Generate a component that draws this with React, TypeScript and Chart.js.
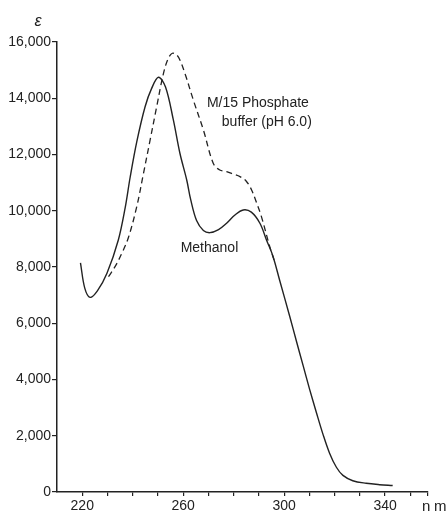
import React, { useEffect, useRef } from "react";
import { Chart, registerables } from "chart.js";

Chart.register(...registerables);

// Methanol (solid)
const methanolNm = [219.3, 221, 223.1, 226, 229.8, 234.3, 237, 239, 241.6, 244.9, 247.5, 250.2, 253, 256.1, 258.7, 261.4, 263, 265.3, 268, 270.6, 274, 277.2, 280.5, 283.8, 287, 290.4, 293, 295.5, 298.3, 302.2, 304.9, 307.5, 310.1, 312.8, 315.4, 318, 320.7, 323.3, 327.2, 332.5, 337.8, 343];
const methanolEps = [8150, 7250, 6920, 7150, 7777, 8961, 10100, 11200, 12450, 13700, 14350, 14746, 14400, 13228, 12044, 11094, 10384, 9650, 9300, 9221, 9330, 9555, 9850, 10028, 9950, 9555, 8961, 8400, 7500, 6250, 5350, 4500, 3650, 2820, 2050, 1380, 880, 590, 400, 309, 260, 230];

// M/15 Phosphate buffer (pH 6.0) (dashed)
const phosphateNm = [230.4, 233, 235.5, 238.3, 241.6, 244.2, 246.9, 249.5, 252.1, 254, 255.7, 257.3, 258.7, 261, 264, 268, 271.9, 274.5, 277.2, 280, 282.5, 285, 287.1, 289, 291, 294.3, 296];
const phosphateEps = [7656, 8012, 8450, 9050, 10145, 11300, 12517, 13700, 14850, 15400, 15599, 15550, 15362, 14800, 13940, 12873, 11688, 11450, 11392, 11300, 11214, 11050, 10740, 10300, 9790, 8723, 8250];

const xTicks = [220, 230, 240, 250, 260, 270, 280, 290, 300, 310, 320, 330, 340, 350, 357];
const xLabelled = [220, 260, 300, 340];
const yTicks = [0, 2000, 4000, 6000, 8000, 10000, 12000, 14000, 16000];

const FONT = "'Liberation Sans', Arial, sans-serif";

export default function App() {
  const ref = useRef<HTMLCanvasElement>(null);
  useEffect(() => {
    document.body.style.margin = "0";
    const canvas = ref.current!;
    const labels = {
      id: "labels",
      afterDraw(chart: any) {
        const ctx = chart.ctx;
        const xs = chart.scales.x;
        const ys = chart.scales.y;
        const ca = chart.chartArea;
        ctx.save();
        ctx.fillStyle = "#222";
        ctx.textBaseline = "middle";
        ctx.font = `14px ${FONT}`;
        ctx.textAlign = "left";
        ctx.fillText("M/15 Phosphate", xs.getPixelForValue(269.4), ys.getPixelForValue(13833));
        ctx.fillText("buffer (pH 6.0)", xs.getPixelForValue(275.3), ys.getPixelForValue(13157));
        ctx.fillText("Methanol", xs.getPixelForValue(259), ys.getPixelForValue(8677));
        ctx.font = `15px ${FONT}`;
        ctx.fillText("n", ca.right - 6, ca.bottom + 15);
        ctx.fillText("m", ca.right + 6, ca.bottom + 15);
        ctx.textAlign = "center";
        ctx.font = `italic 16px ${FONT}`;
        ctx.fillText("\u03b5", ca.left - 19, ca.top - 20);
        ctx.restore();
      },
    };
    const chart = new Chart(canvas, {
      type: "scatter",
      data: {
        datasets: [
          {
            label: "Methanol",
            data: methanolNm.map((x, i) => ({ x, y: methanolEps[i] })),
            showLine: true,
            borderColor: "#222",
            borderWidth: 1.4,
            pointRadius: 0,
            tension: 0.35,
          },
          {
            label: "M/15 Phosphate buffer (pH 6.0)",
            data: phosphateNm.map((x, i) => ({ x, y: phosphateEps[i] })),
            showLine: true,
            borderColor: "#222",
            borderWidth: 1.3,
            borderDash: [6, 4],
            pointRadius: 0,
            tension: 0.35,
          },
        ],
      },
      options: {
        animation: false,
        responsive: false,
        layout: { padding: { top: 42, right: 20, left: 0, bottom: 0 } },
        plugins: { legend: { display: false }, tooltip: { enabled: false } },
        scales: {
          x: {
            type: "linear",
            min: 210,
            max: 357,
            afterBuildTicks(scale: any) {
              scale.ticks = xTicks.map((v) => ({ value: v }));
            },
            afterFit(scale: any) {
              scale.height = 22;
            },
            grid: { drawOnChartArea: false, drawTicks: true, tickLength: 4, color: "#222", lineWidth: 1.2 },
            border: { display: true, color: "#222", width: 1.5 },
            ticks: {
              autoSkip: false,
              maxRotation: 0,
              padding: 2,
              color: "#222",
              font: { family: FONT, size: 14 },
              callback: (v: any) => (xLabelled.includes(v) ? String(v) : ""),
            },
          },
          y: {
            type: "linear",
            min: 0,
            max: 16000,
            afterBuildTicks(scale: any) {
              scale.ticks = yTicks.map((v) => ({ value: v }));
            },
            afterFit(scale: any) {
              scale.width = 57;
            },
            grid: { drawOnChartArea: false, drawTicks: true, tickLength: 5, color: "#222", lineWidth: 1.2 },
            border: { display: true, color: "#222", width: 1.5 },
            ticks: {
              padding: 1,
              color: "#222",
              font: { family: FONT, size: 14 },
              callback: (v: any) => Number(v).toLocaleString("en-US"),
            },
          },
        },
      },
      plugins: [labels],
    } as any);
    return () => chart.destroy();
  }, []);
  return <canvas ref={ref} width={448} height={514} style={{ display: "block" }} />;
}
